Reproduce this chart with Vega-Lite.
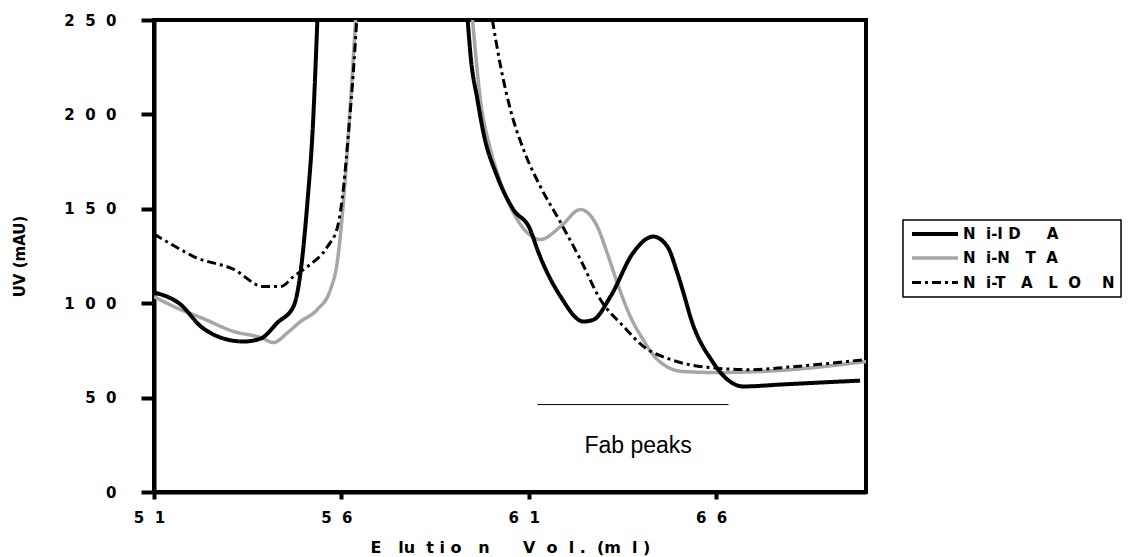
{
  "$schema": "https://vega.github.io/schema/vega-lite/v6.json",
  "width": 712,
  "height": 472,
  "autosize": {"type": "none"},
  "padding": {"left": 154, "top": 20, "right": 265, "bottom": 65},
  "background": "white",
  "config": {
    "view": {"stroke": "black", "strokeWidth": 4},
    "font": "DejaVu Sans"
  },
  "datasets": {
    "curves": [
      {"s": "Ni-NTA", "g": 1, "x": 51.0, "y": 103.5},
      {"s": "Ni-NTA", "g": 1, "x": 51.71, "y": 96.6},
      {"s": "Ni-NTA", "g": 1, "x": 52.25, "y": 92.4},
      {"s": "Ni-NTA", "g": 1, "x": 53.13, "y": 85.0},
      {"s": "Ni-NTA", "g": 1, "x": 53.85, "y": 81.8},
      {"s": "Ni-NTA", "g": 1, "x": 54.19, "y": 79.2},
      {"s": "Ni-NTA", "g": 1, "x": 54.57, "y": 84.5},
      {"s": "Ni-NTA", "g": 1, "x": 54.91, "y": 90.3},
      {"s": "Ni-NTA", "g": 1, "x": 55.36, "y": 96.7},
      {"s": "Ni-NTA", "g": 1, "x": 55.71, "y": 107.3},
      {"s": "Ni-NTA", "g": 1, "x": 55.9, "y": 123.1},
      {"s": "Ni-NTA", "g": 1, "x": 56.06, "y": 154.9},
      {"s": "Ni-NTA", "g": 1, "x": 56.25, "y": 207.9},
      {"s": "Ni-NTA", "g": 1, "x": 56.38, "y": 250.0},
      {"s": "Ni-NTA", "g": 2, "x": 59.5, "y": 250.0},
      {"s": "Ni-NTA", "g": 2, "x": 59.71, "y": 207.9},
      {"s": "Ni-NTA", "g": 2, "x": 59.98, "y": 181.4},
      {"s": "Ni-NTA", "g": 2, "x": 60.25, "y": 163.9},
      {"s": "Ni-NTA", "g": 2, "x": 60.59, "y": 148.0},
      {"s": "Ni-NTA", "g": 2, "x": 61.13, "y": 134.8},
      {"s": "Ni-NTA", "g": 2, "x": 61.31, "y": 133.7},
      {"s": "Ni-NTA", "g": 2, "x": 61.85, "y": 140.6},
      {"s": "Ni-NTA", "g": 2, "x": 62.38, "y": 149.6},
      {"s": "Ni-NTA", "g": 2, "x": 62.83, "y": 140.6},
      {"s": "Ni-NTA", "g": 2, "x": 63.09, "y": 126.8},
      {"s": "Ni-NTA", "g": 2, "x": 63.36, "y": 110.9},
      {"s": "Ni-NTA", "g": 2, "x": 63.71, "y": 93.0},
      {"s": "Ni-NTA", "g": 2, "x": 64.05, "y": 80.8},
      {"s": "Ni-NTA", "g": 2, "x": 64.43, "y": 70.2},
      {"s": "Ni-NTA", "g": 2, "x": 65.12, "y": 63.8},
      {"s": "Ni-NTA", "g": 2, "x": 66.03, "y": 63.3},
      {"s": "Ni-NTA", "g": 2, "x": 67.71, "y": 64.4},
      {"s": "Ni-NTA", "g": 2, "x": 70.0, "y": 69.1},

      {"s": "Ni-TALON", "g": 1, "x": 51.0, "y": 136.6},
      {"s": "Ni-TALON", "g": 1, "x": 51.71, "y": 128.4},
      {"s": "Ni-TALON", "g": 1, "x": 52.06, "y": 124.7},
      {"s": "Ni-TALON", "g": 1, "x": 53.13, "y": 117.9},
      {"s": "Ni-TALON", "g": 1, "x": 53.92, "y": 108.8},
      {"s": "Ni-TALON", "g": 1, "x": 54.38, "y": 108.8},
      {"s": "Ni-TALON", "g": 1, "x": 54.72, "y": 114.1},
      {"s": "Ni-TALON", "g": 1, "x": 55.1, "y": 119.4},
      {"s": "Ni-TALON", "g": 1, "x": 55.63, "y": 130.0},
      {"s": "Ni-TALON", "g": 1, "x": 55.9, "y": 140.6},
      {"s": "Ni-TALON", "g": 1, "x": 56.06, "y": 161.8},
      {"s": "Ni-TALON", "g": 1, "x": 56.19, "y": 190.4},
      {"s": "Ni-TALON", "g": 1, "x": 56.33, "y": 225.4},
      {"s": "Ni-TALON", "g": 1, "x": 56.41, "y": 250.0},
      {"s": "Ni-TALON", "g": 2, "x": 60.03, "y": 250.0},
      {"s": "Ni-TALON", "g": 2, "x": 60.25, "y": 225.4},
      {"s": "Ni-TALON", "g": 2, "x": 60.51, "y": 202.6},
      {"s": "Ni-TALON", "g": 2, "x": 60.86, "y": 181.4},
      {"s": "Ni-TALON", "g": 2, "x": 61.31, "y": 161.8},
      {"s": "Ni-TALON", "g": 2, "x": 61.85, "y": 142.7},
      {"s": "Ni-TALON", "g": 2, "x": 62.38, "y": 123.1},
      {"s": "Ni-TALON", "g": 2, "x": 62.91, "y": 102.0},
      {"s": "Ni-TALON", "g": 2, "x": 63.53, "y": 87.7},
      {"s": "Ni-TALON", "g": 2, "x": 64.06, "y": 77.1},
      {"s": "Ni-TALON", "g": 2, "x": 64.78, "y": 70.2},
      {"s": "Ni-TALON", "g": 2, "x": 65.85, "y": 65.9},
      {"s": "Ni-TALON", "g": 2, "x": 66.91, "y": 64.8},
      {"s": "Ni-TALON", "g": 2, "x": 67.79, "y": 65.9},
      {"s": "Ni-TALON", "g": 2, "x": 68.7, "y": 67.5},
      {"s": "Ni-TALON", "g": 2, "x": 70.0, "y": 70.2},

      {"s": "Ni-IDA", "g": 1, "x": 51.0, "y": 105.7},
      {"s": "Ni-IDA", "g": 1, "x": 51.71, "y": 99.3},
      {"s": "Ni-IDA", "g": 1, "x": 52.25, "y": 87.7},
      {"s": "Ni-IDA", "g": 1, "x": 52.78, "y": 81.8},
      {"s": "Ni-IDA", "g": 1, "x": 53.39, "y": 79.7},
      {"s": "Ni-IDA", "g": 1, "x": 53.85, "y": 81.3},
      {"s": "Ni-IDA", "g": 1, "x": 54.3, "y": 89.8},
      {"s": "Ni-IDA", "g": 1, "x": 54.72, "y": 98.2},
      {"s": "Ni-IDA", "g": 1, "x": 54.91, "y": 116.3},
      {"s": "Ni-IDA", "g": 1, "x": 55.1, "y": 154.9},
      {"s": "Ni-IDA", "g": 1, "x": 55.23, "y": 190.4},
      {"s": "Ni-IDA", "g": 1, "x": 55.36, "y": 250.0},
      {"s": "Ni-IDA", "g": 2, "x": 59.37, "y": 250.0},
      {"s": "Ni-IDA", "g": 2, "x": 59.45, "y": 230.7},
      {"s": "Ni-IDA", "g": 2, "x": 59.63, "y": 207.9},
      {"s": "Ni-IDA", "g": 2, "x": 59.79, "y": 190.4},
      {"s": "Ni-IDA", "g": 2, "x": 60.16, "y": 167.1},
      {"s": "Ni-IDA", "g": 2, "x": 60.59, "y": 149.6},
      {"s": "Ni-IDA", "g": 2, "x": 61.04, "y": 139.0},
      {"s": "Ni-IDA", "g": 2, "x": 61.23, "y": 128.4},
      {"s": "Ni-IDA", "g": 2, "x": 61.85, "y": 103.5},
      {"s": "Ni-IDA", "g": 2, "x": 62.46, "y": 90.3},
      {"s": "Ni-IDA", "g": 2, "x": 62.73, "y": 91.3},
      {"s": "Ni-IDA", "g": 2, "x": 63.18, "y": 103.5},
      {"s": "Ni-IDA", "g": 2, "x": 63.79, "y": 126.8},
      {"s": "Ni-IDA", "g": 2, "x": 64.32, "y": 135.3},
      {"s": "Ni-IDA", "g": 2, "x": 64.7, "y": 130.0},
      {"s": "Ni-IDA", "g": 2, "x": 64.96, "y": 116.3},
      {"s": "Ni-IDA", "g": 2, "x": 65.18, "y": 102.0},
      {"s": "Ni-IDA", "g": 2, "x": 65.31, "y": 93.0},
      {"s": "Ni-IDA", "g": 2, "x": 65.92, "y": 68.6},
      {"s": "Ni-IDA", "g": 2, "x": 66.3, "y": 59.6},
      {"s": "Ni-IDA", "g": 2, "x": 66.72, "y": 55.9},
      {"s": "Ni-IDA", "g": 2, "x": 67.79, "y": 57.0},
      {"s": "Ni-IDA", "g": 2, "x": 69.84, "y": 59.0}
    ],
    "fab": [{"x": 61.23, "x2": 66.33, "y": 46.3, "tx": 63.92, "ty": 24.1, "label": "Fab peaks"}]
  },
  "layer": [
    {
      "data": {"name": "curves"},
      "mark": {"type": "line", "clip": true, "strokeCap": "butt", "strokeJoin": "round", "interpolate": "monotone"},
      "encoding": {
        "x": {
          "field": "x", "type": "quantitative",
          "scale": {"domain": [51, 70], "nice": false, "zero": false},
          "axis": {
            "title": "E\u00a0\u00a0\u00a0lu\u00a0\u00a0t\u00a0i\u00a0o\u00a0\u00a0\u00a0n\u00a0\u00a0\u00a0\u00a0\u00a0\u00a0V\u00a0\u00a0o\u00a0\u00a0l\u00a0.\u00a0\u00a0(m\u00a0\u00a0l\u00a0)",
            "values": [51, 56, 61, 66],
            "grid": false, "labelFlush": false,
            "domainColor": "black", "domainWidth": 4,
            "tickColor": "black", "tickWidth": 4, "tickSize": 7,
            "labelFont": "DejaVu Sans", "labelFontWeight": "bold", "labelFontSize": 15,
            "labelColor": "black", "labelPadding": 11, "labelOffset": -5,
            "labelExpr": "join(split(datum.label, ''), '\u00a0\u00a0')",
            "titleFont": "DejaVu Sans", "titleFontWeight": "bold", "titleFontSize": 16,
            "titleColor": "black", "titleY": 55, "titleBaseline": "middle"
          }
        },
        "y": {
          "field": "y", "type": "quantitative",
          "scale": {"domain": [0, 250], "nice": false},
          "axis": {
            "title": "UV (mAU)",
            "values": [0, 50, 100, 150, 200, 250],
            "grid": false, "labelFlush": false,
            "domainColor": "black", "domainWidth": 4,
            "tickColor": "black", "tickWidth": 4, "tickSize": 13,
            "labelFont": "DejaVu Sans", "labelFontWeight": "bold", "labelFontSize": 15,
            "labelColor": "black", "labelPadding": 25,
            "labelExpr": "join(split(datum.label, ''), '\u00a0\u00a0')",
            "titleFont": "DejaVu Sans", "titleFontWeight": "bold", "titleFontSize": 15,
            "titleColor": "black", "titleX": -135, "titleY": 236, "titleBaseline": "middle"
          }
        },
        "detail": {"field": "g"},
        "color": {
          "field": "s", "type": "nominal",
          "scale": {"domain": ["Ni-IDA", "Ni-NTA", "Ni-TALON"], "range": ["black", "#a6a6a6", "black"]},
          "legend": {
            "title": null,
            "orient": "none", "legendX": 749, "legendY": 200,
            "strokeColor": "black", "padding": 6,
            "symbolType": "M-4,0H4", "symbolSize": 132,
            "symbolOffset": 18,
            "rowPadding": 8.5, "labelOffset": 20,
            "labelFont": "DejaVu Sans", "labelFontWeight": "bold", "labelFontSize": 15,
            "labelColor": "black", "labelLimit": 400,
            "labelExpr": "datum.label == 'Ni-IDA' ? 'N\u00a0\u00a0i-I\u00a0D\u00a0\u00a0\u00a0\u00a0\u00a0A' : datum.label == 'Ni-NTA' ? 'N\u00a0\u00a0i-N\u00a0\u00a0\u00a0T\u00a0\u00a0A' : 'N\u00a0\u00a0i-T\u00a0\u00a0\u00a0A\u00a0\u00a0\u00a0L\u00a0\u00a0O\u00a0\u00a0\u00a0\u00a0N'",
            "encode": {
              "legend": {"update": {"strokeWidth": {"value": 1.5}}},
              "symbols": {"update": {"strokeDash": {"signal": "datum.value == 'Ni-TALON' ? [10, 13] : null"}}}
            }
          }
        },
        "strokeDash": {
          "field": "s", "type": "nominal",
          "scale": {"domain": ["Ni-IDA", "Ni-NTA", "Ni-TALON"], "range": [[1, 0], [1, 0], [9, 4, 3, 4]]}
        },
        "strokeWidth": {
          "field": "s", "type": "nominal",
          "scale": {"domain": ["Ni-IDA", "Ni-NTA", "Ni-TALON"], "range": [4, 3, 3.5]}
        }
      }
    },
    {
      "data": {"name": "fab"},
      "mark": {"type": "rule", "color": "black", "strokeWidth": 1},
      "encoding": {
        "x": {"field": "x", "type": "quantitative"},
        "x2": {"field": "x2"},
        "y": {"field": "y", "type": "quantitative"}
      }
    },
    {
      "data": {"name": "fab"},
      "mark": {"type": "text", "font": "Liberation Sans", "fontSize": 23, "color": "black", "align": "center", "baseline": "middle"},
      "encoding": {
        "x": {"field": "tx", "type": "quantitative"},
        "y": {"field": "ty", "type": "quantitative"},
        "text": {"field": "label"}
      }
    }
  ]
}
